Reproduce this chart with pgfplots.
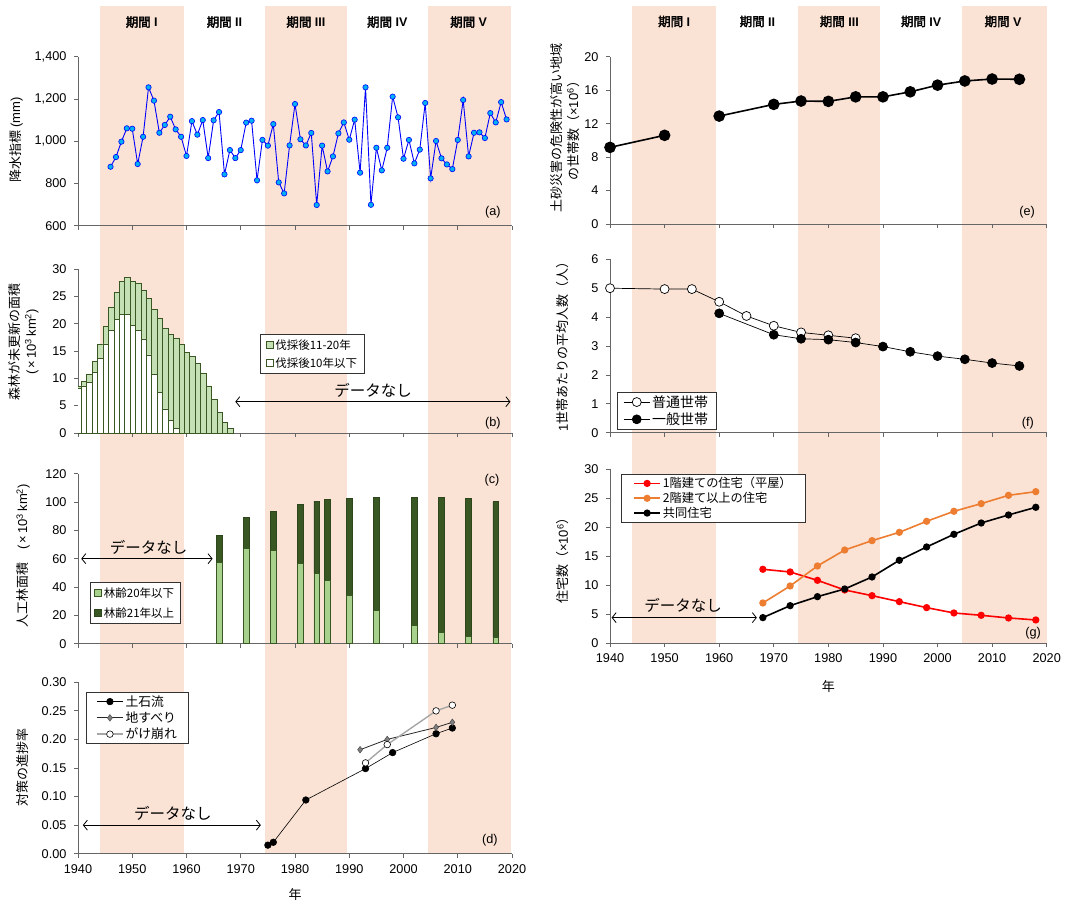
\documentclass[border=0pt]{standalone}
\usepackage{pgfplots}
\pgfplotsset{compat=1.18}
\usepackage{fontspec}
\usetikzlibrary{arrows.meta}
\setmainfont{Liberation Sans}
\newfontfamily\jp{Noto Sans CJK JP}
\newfontfamily\jpb[FakeBold=2.5]{Noto Sans CJK JP}
\definecolor{bandcol}{RGB}{250,226,212}
\definecolor{lgreenb}{RGB}{197,224,180}
\definecolor{dgreen}{RGB}{56,87,35}
\definecolor{lgreenc}{RGB}{169,209,142}
\definecolor{cyanm}{RGB}{0,176,240}
\definecolor{orng}{RGB}{237,125,49}
\newcommand\tf{\fontsize{12.7}{15}\selectfont}
\newcommand\lf{\fontsize{13}{16.3}\selectfont}
\newcommand\pf{\fontsize{12.5}{15}\selectfont}
\newcommand\nf{\jp\fontsize{15.5}{18}\selectfont}
\tikzset{nodata/.style={line width=0.8pt, {Straight Barb[length=4pt,width=10pt]}-{Straight Barb[length=4pt,width=10pt]}}}
\pgfplotsset{
 base/.style={
  scale only axis, anchor=south west,
  xmin=1940, xmax=2020,
  axis x line=bottom, axis y line=left,
  axis line style={-, draw=black!60, line width=0.8pt},
  tick style={draw=black!60, line width=0.8pt},
  tick align=outside, major tick length=4pt,
  xtick={1940,1950,...,2020},
  tick label style={font=\tf},
  /pgf/number format/assume math mode=true,
  yticklabel style={xshift=-4pt},
  xticklabel style={yshift=-3pt},
  ylabel style={font=\lf, anchor=center, align=center},
  xlabel style={font=\jp\lf, anchor=center},
  legend cell align=left,
 },
 Lcol/.style={base, width=434pt},
 Rcol/.style={base, width=436.7pt},
 boxleg/.style={legend image code/.code={\draw[##1, line width=0.6pt] (0pt,-3.5pt) rectangle (7pt,3.5pt);}},
 lineleg/.style={legend image code/.code={\draw[mark repeat=2, mark phase=2, ##1] plot coordinates {(0pt,0pt) (13pt,0pt) (26pt,0pt)};}},
}
\begin{document}
\begin{tikzpicture}
% ---------- backgrounds ----------
\begin{axis}[at={(78pt,-853.7pt)}, anchor=south west, scale only axis, width=434pt, height=847.7pt,
  xmin=1940, xmax=2020, ymin=0, ymax=1, hide axis, clip=false]
\fill[bandcol] (axis cs:1944,0) rectangle (axis cs:1959.5,1);
\fill[bandcol] (axis cs:1974.5,0) rectangle (axis cs:1989.5,1);
\fill[bandcol] (axis cs:2004.5,0) rectangle (axis cs:2019.8,1);
\node[font=\pf] at (axis cs:1951.75,0.981) {{\jpb 期間} \textbf{I}};
\node[font=\pf] at (axis cs:1967,0.981) {{\jpb 期間} \textbf{II}};
\node[font=\pf] at (axis cs:1982,0.981) {{\jpb 期間} \textbf{III}};
\node[font=\pf] at (axis cs:1997,0.981) {{\jpb 期間} \textbf{IV}};
\node[font=\pf] at (axis cs:2012,0.981) {{\jpb 期間} \textbf{V}};
\end{axis}
\begin{axis}[at={(610pt,-643.3pt)}, anchor=south west, scale only axis, width=436.7pt, height=637.3pt,
  xmin=1940, xmax=2020, ymin=0, ymax=1, hide axis, clip=false]
\fill[bandcol] (axis cs:1944,0) rectangle (axis cs:1959.5,1);
\fill[bandcol] (axis cs:1974.5,0) rectangle (axis cs:1989.5,1);
\fill[bandcol] (axis cs:2004.5,0) rectangle (axis cs:2020,1);
\node[font=\pf] at (axis cs:1951.75,0.9757) {{\jpb 期間} \textbf{I}};
\node[font=\pf] at (axis cs:1967,0.9757) {{\jpb 期間} \textbf{II}};
\node[font=\pf] at (axis cs:1982,0.9757) {{\jpb 期間} \textbf{III}};
\node[font=\pf] at (axis cs:1997,0.9757) {{\jpb 期間} \textbf{IV}};
\node[font=\pf] at (axis cs:2012,0.9757) {{\jpb 期間} \textbf{V}};
\end{axis}
% ---------- (a) ----------
\begin{axis}[Lcol, at={(78pt,-225.7pt)}, height=169pt, ymin=600, ymax=1400, ytick={600,800,...,1400},
  xticklabels={}, clip=false,
  ylabel={{\jp 降水指標} (mm)}, ylabel style={at={(axis description cs:-0.143,0.507)}}]
\addplot[blue, line width=0.9pt, mark=*, mark size=2.7pt, mark options={fill=cyanm, draw=blue, line width=0.6pt}] table {
x y
1946 879
1947 925
1948 998
1949 1061
1950 1059
1951 892
1952 1021
1953 1255
1954 1192
1955 1040
1956 1077
1957 1116
1958 1056
1959 1021
1960 930
1961 1095
1962 1031
1963 1100
1964 920
1965 1099
1966 1138
1967 843
1968 958
1969 920
1970 958
1971 1088
1972 1097
1973 815
1974 1006
1975 979
1976 1081
1977 805
1978 753
1979 980
1980 1176
1981 1009
1982 980
1983 1039
1984 698
1985 979
1986 857
1987 928
1988 1037
1989 1089
1990 1007
1991 1102
1992 851
1993 1255
1994 699
1995 969
1996 862
1997 969
1998 1211
1999 1113
2000 917
2001 1006
2002 895
2003 960
2004 1181
2005 824
2006 1001
2007 919
2008 890
2009 868
2010 1006
2011 1195
2012 928
2013 1040
2014 1042
2015 1015
2016 1133
2017 1089
2018 1185
2019 1103
};
\node[font=\tf] at (rel axis cs:0.956,0.081) {(a)};
\end{axis}
% ---------- (b) ----------
\begin{axis}[Lcol, at={(78pt,-433pt)}, height=164pt, ymin=0, ymax=30, ytick={0,5,...,30},
  xticklabels={}, ybar stacked, bar width=1,
  ylabel={{\jp 森林が未更新の面積}\\(\,×\,10\textsuperscript{3}\,km\textsuperscript{2})},
  ylabel style={at={(axis description cs:-0.1256,0.555)}},
  boxleg, reverse legend,
  legend style={at={(0.42,0.604)}, anchor=north west, font=\jp\fontsize{11.5}{13}\selectfont,
    draw=black!80, line width=0.8pt, inner xsep=5pt, inner ysep=3pt, row sep=3pt}]
\addplot[draw=dgreen, fill=white, line width=0.6pt] table {
x y
1940.1 8.1
1941.1 8.6
1942.1 9.3
1943.1 11.1
1944.1 13.6
1945.1 16.3
1946.1 18.8
1947.1 20.8
1948.1 21.7
1949.1 21.7
1950.1 19.7
1951.1 18.7
1952.1 17.2
1953.1 14.3
1954.1 10.7
1955.1 7.5
1956.1 4.4
1957.1 2.3
1958.1 0.85
1959.1 0
1960.1 0
1961.1 0
1962.1 0
1963.1 0
1964.1 0
1965.1 0
1966.1 0
1967.1 0
1968.1 0
};
\addlegendentry{伐採後10年以下}
\addplot[draw=dgreen, fill=lgreenb, line width=0.6pt] table {
x y
1940.1 0.4
1941.1 0.9
1942.1 1.5
1943.1 2.1
1944.1 2.7
1945.1 3.2
1946.1 4.2
1947.1 4.9
1948.1 6.1
1949.1 6.8
1950.1 8.1
1951.1 8.6
1952.1 8.9
1953.1 10.3
1954.1 11.9
1955.1 13.4
1956.1 14.7
1957.1 15.8
1958.1 16.45
1959.1 16.2
1960.1 14.8
1961.1 14.0
1962.1 12.8
1963.1 11.0
1964.1 8.6
1965.1 6.2
1966.1 3.8
1967.1 2.0
1968.1 0.8
};
\addlegendentry{伐採後11-20年}
\draw[nodata] (axis cs:1969,5.73) -- (axis cs:2019.7,5.73);
\node[font=\nf] at (axis cs:1994.4,7.74) {データなし};
\node[font=\tf] at (rel axis cs:0.956,0.061) {(b)};
\end{axis}
% ---------- (c) ----------
\begin{axis}[Lcol, at={(78pt,-643.7pt)}, height=170pt, ymin=0, ymax=120, ytick={0,20,...,120},
  xticklabels={}, ybar stacked, bar width=1.05,
  ylabel={{\jp 人工林面積　}(\,×\,10\textsuperscript{3}\,km\textsuperscript{2})},
  ylabel style={at={(axis description cs:-0.1267,0.516)}},
  boxleg,
  legend style={at={(0.0276,0.363)}, anchor=north west, font=\jp\fontsize{11.5}{13}\selectfont,
    draw=black!80, line width=0.8pt, inner xsep=4pt, inner ysep=3pt, row sep=5pt}]
\addplot[draw=dgreen, fill=lgreenc, line width=0.6pt] table {
x y
1966 57.6
1971 67.3
1976 65.9
1981 56.9
1984 49.4
1986 44.5
1990 34.1
1995 23.3
2002 12.7
2007 8.0
2012 5.4
2017 4.5
};
\addlegendentry{林齢20年以下}
\addplot[draw=dgreen!80!black, fill=dgreen, line width=0.6pt] table {
x y
1966 19.1
1971 21.9
1976 27.5
1981 41.7
1984 51.3
1986 57.1
1990 68.7
1995 80.0
2002 90.4
2007 95.3
2012 97.2
2017 95.7
};
\addlegendentry{林齢21年以上}
\draw[nodata] (axis cs:1940.6,60) -- (axis cs:1964.8,60);
\node[font=\nf] at (axis cs:1953,68) {データなし};
\node[font=\tf] at (rel axis cs:0.954,0.963) {(c)};
\end{axis}
% ---------- (d) ----------
\begin{axis}[Lcol, at={(78pt,-853.7pt)}, height=171.4pt, ymin=0, ymax=0.3, ytick={0,0.05,...,0.3},
  clip=false,
  xticklabel style={/pgf/number format/1000 sep={}},
  yticklabel style={/pgf/number format/.cd, fixed, fixed zerofill, precision=2},
  xlabel={年}, xlabel style={at={(axis description cs:0.5,-0.241)}},
  ylabel={\jp 対策の進捗率}, ylabel style={at={(axis description cs:-0.1267,0.503)}},
  lineleg,
  legend style={at={(0.018,0.943)}, anchor=north west, font=\jp\fontsize{12.8}{14}\selectfont,
    draw=black!80, line width=0.8pt, inner xsep=10pt, inner ysep=1pt, row sep=0pt}]
\addplot[black, line width=0.6pt, mark=*, mark size=3.3pt, mark options={fill=black}] coordinates {
(1975,0.015) (1976,0.020) (1982,0.094) (1993,0.149) (1998,0.177) (2006,0.210) (2009,0.220)};
\addlegendentry{土石流}
\addplot[black!85, line width=0.8pt, mark=diamond*, mark size=3.3pt, mark options={fill=gray, draw=black!70, line width=0.5pt}] coordinates {
(1992,0.182) (1997,0.200) (2006,0.221) (2009,0.230)};
\addlegendentry{地すべり}
\addplot[black!35, line width=1.4pt, mark=*, mark size=3.3pt, mark options={fill=white, draw=black, line width=0.6pt}] coordinates {
(1993,0.159) (1997,0.191) (2006,0.250) (2009,0.260)};
\addlegendentry{がけ崩れ}
\draw[nodata] (axis cs:1940.9,0.05) -- (axis cs:1973.7,0.05);
\node[font=\nf] at (axis cs:1957.5,0.0712) {データなし};
\node[font=\tf] at (rel axis cs:0.949,0.08) {(d)};
\end{axis}
% ---------- (e) ----------
\begin{axis}[Rcol, at={(610pt,-224pt)}, height=167.3pt, ymin=0, ymax=20, ytick={0,4,...,20},
  xticklabels={}, clip=false,
  ylabel={{\jp 土砂災害の危険性が高い地域}\\{\jp の世帯数（}×10\textsuperscript{6}{\jp ）}},
  ylabel style={at={(axis description cs:-0.103,0.575)}}]
\addplot[black, line width=1.6pt, mark=*, mark size=5pt] coordinates {(1940,9.16) (1950,10.6)};
\addplot[black, line width=1.6pt, mark=*, mark size=5pt] coordinates {
(1960,12.9) (1970,14.3) (1975,14.7) (1980,14.66) (1985,15.2) (1990,15.2) (1995,15.8) (2000,16.6) (2005,17.1) (2010,17.33) (2015,17.3)};
\node[font=\tf] at (rel axis cs:0.955,0.072) {(e)};
\end{axis}
% ---------- (f) ----------
\begin{axis}[Rcol, at={(610pt,-432.7pt)}, height=173.4pt, ymin=0, ymax=6, ytick={0,1,...,6},
  xticklabels={}, clip=false,
  ylabel={1{\jp 世帯あたりの平均人数（人）}}, ylabel style={at={(axis description cs:-0.1076,0.514)}},
  lineleg,
  legend style={at={(0.016,0.2347)}, anchor=north west, font=\jp\fontsize{14}{16}\selectfont,
    draw=black!80, line width=0.8pt, inner xsep=6pt, inner ysep=1pt, row sep=0pt}]
\addplot[black, line width=0.7pt, mark=*, mark size=4.5pt, mark options={fill=white}] coordinates {
(1940,5.0) (1950,4.97) (1955,4.97) (1960,4.53) (1965,4.04) (1970,3.70) (1975,3.47) (1980,3.37) (1985,3.27)};
\addlegendentry{普通世帯}
\addplot[black, line width=0.7pt, mark=*, mark size=4.5pt, mark options={fill=black}] coordinates {
(1960,4.13) (1970,3.39) (1975,3.25) (1980,3.22) (1985,3.12) (1990,2.98) (1995,2.80) (2000,2.65) (2005,2.54) (2010,2.41) (2015,2.31)};
\addlegendentry{一般世帯}
\node[font=\tf] at (rel axis cs:0.957,0.056) {(f)};
\end{axis}
% ---------- (g) ----------
\begin{axis}[Rcol, at={(610pt,-643.3pt)}, height=174.3pt, ymin=0, ymax=30, ytick={0,5,...,30},
  clip=false,
  xticklabel style={/pgf/number format/1000 sep={}},
  xlabel={年}, xlabel style={at={(axis description cs:0.5,-0.249)}},
  ylabel={{\jp 住宅数（}×10\textsuperscript{6}{\jp ）}}, ylabel style={at={(axis description cs:-0.1076,0.492)}},
  lineleg,
  legend style={at={(0.025,0.971)}, anchor=north west, font=\jp\fontsize{12.2}{14}\selectfont,
    draw=black!80, line width=0.8pt, inner xsep=12pt, inner ysep=1pt, row sep=-1pt}]
\addplot[red, line width=1.6pt, mark=*, mark size=2.8pt] coordinates {
(1968,12.74) (1973,12.28) (1978,10.84) (1983,9.18) (1988,8.20) (1993,7.17) (1998,6.14) (2003,5.22) (2008,4.82) (2013,4.36) (2018,4.02)};
\addlegendentry{1階建ての住宅（平屋）}
\addplot[orng, line width=1.6pt, mark=*, mark size=2.8pt] coordinates {
(1968,6.94) (1973,9.87) (1978,13.31) (1983,16.06) (1988,17.67) (1993,19.10) (1998,21.0) (2003,22.72) (2008,24.04) (2013,25.47) (2018,26.1)};
\addlegendentry{2階建て以上の住宅}
\addplot[black, line width=1.6pt, mark=*, mark size=2.8pt] coordinates {
(1968,4.42) (1973,6.48) (1978,8.03) (1983,9.35) (1988,11.42) (1993,14.29) (1998,16.58) (2003,18.76) (2008,20.71) (2013,22.09) (2018,23.41)};
\addlegendentry{共同住宅}
\draw[nodata] (axis cs:1940.3,4.42) -- (axis cs:1966.9,4.42);
\node[font=\nf] at (axis cs:1953.4,6.5) {データなし};
\node[font=\tf] at (rel axis cs:0.969,0.059) {(g)};
\end{axis}
\pgfresetboundingbox
\path[use as bounding box] (0pt,0pt) rectangle (1073pt,-901pt);
\end{tikzpicture}
\end{document}
